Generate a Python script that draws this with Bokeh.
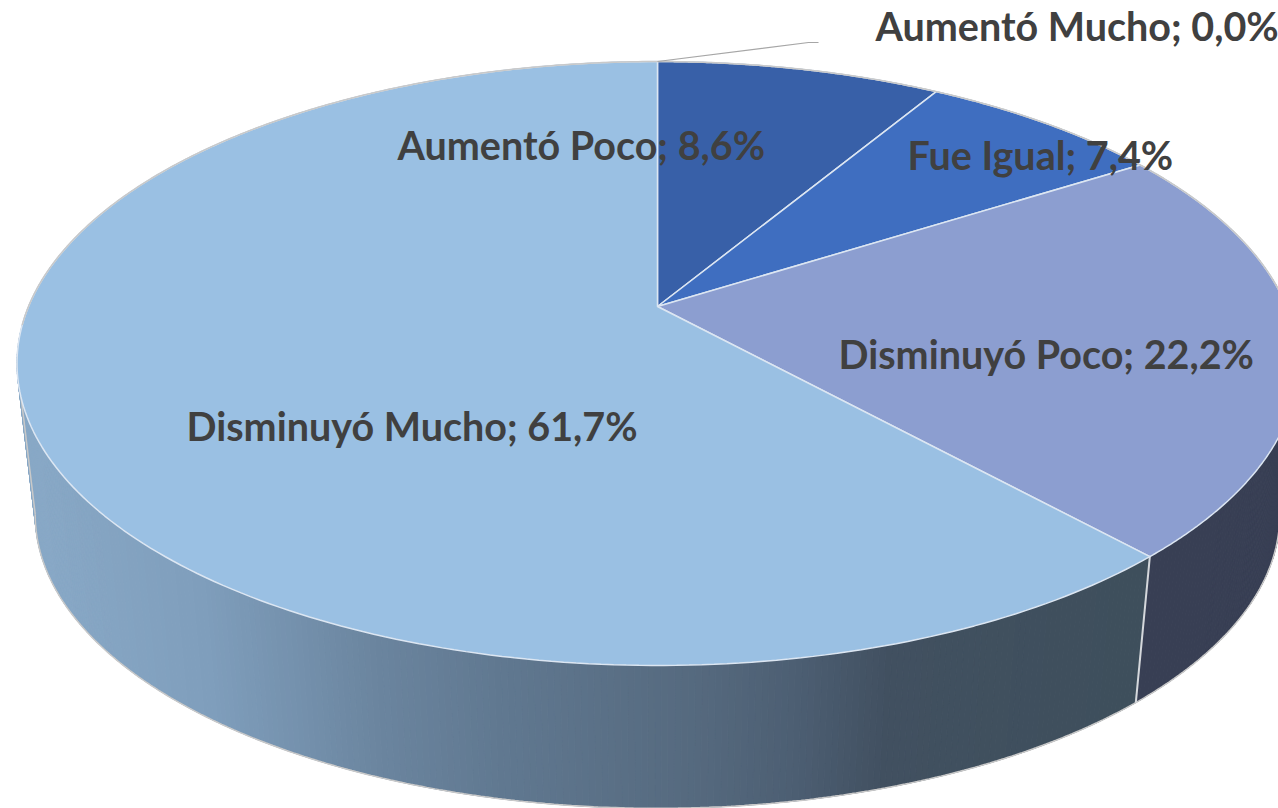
import numpy as np
from bokeh.plotting import figure
from bokeh.models import ColumnDataSource
from bokeh.core.properties import value
from bokeh.embed import file_html
from bokeh.resources import INLINE

categories = ["Aumentó Mucho", "Aumentó Poco", "Fue Igual", "Disminuyó Poco", "Disminuyó Mucho"]
shares = [0.0, 8.6, 7.4, 22.2, 61.7]
top_colors = ["#2f5597", "#3860A8", "#3F6EC0", "#8C9ED0", "#9AC0E3"]

W, H = 1278, 808

# projection of the pie disc (tilt + perspective)
CX, CY = 657.0, 306.0
A, B, K = 629.0, 291.2, 0.1887
VY, S = 5677.0, 0.9715   # vanishing point / scale of the lower rim


def top(theta):
    u, v = np.sin(theta), np.cos(theta)
    d = 1 + K * v
    return CX + A * u / d, CY - B * v / d


def low(theta):
    x, y = top(theta)
    return CX + (x - CX) * S, VY + (y - VY) * S


def grad(x):
    xs = [30, 200, 380, 500, 700, 800, 890, 1140]
    cs = np.array([[0x88, 0xA8, 0xC6], [0x7F, 0x9E, 0xBC], [0x6A, 0x84, 0x9E], [0x60, 0x78, 0x90],
                   [0x55, 0x69, 0x7E], [0x4C, 0x5E, 0x72], [0x41, 0x50, 0x60], [0x3E, 0x4F, 0x5C]], float)
    return "#%02x%02x%02x" % tuple(int(round(np.interp(x, xs, cs[:, i]))) for i in range(3))


p = figure(width=W, height=H, x_range=(0, W), y_range=(H, 0),
           output_backend="svg", toolbar_location=None, min_border=0,
           outline_line_color=None, background_fill_color="white", border_fill_color="white")
p.axis.visible = False
p.grid.visible = False

edges = np.radians(np.cumsum([0.0] + shares) / sum(shares) * 360)

# side wall
xs, ys, cols = [], [], []
for i in range(len(shares)):
    a0, a1 = edges[i], edges[i + 1]
    if a1 <= a0:
        continue
    n = max(2, int(np.degrees(a1 - a0) * 2))
    t = np.linspace(a0, a1, n + 1)
    for j in range(n):
        x0, y0 = top(t[j]); x1, y1 = top(t[j + 1])
        x2, y2 = low(t[j + 1]); x3, y3 = low(t[j])
        xs.append([x0, x1, x2, x3]); ys.append([y0, y1, y2, y3])
        cols.append("#383F54" if categories[i] == "Disminuyó Poco" else grad((x0 + x1) / 2))
p.patches(xs, ys, fill_color=cols, line_color=cols, line_width=1)

# silhouette of the lower rim, between its rightmost and leftmost points
t = np.linspace(np.pi * 0.40, np.pi * 1.9, 800)
lx, ly = low(t)
start, stop = int(np.argmax(lx)), int(np.argmin(lx))
p.line(lx[start:stop + 1], ly[start:stop + 1], line_color="#c9c9c9", line_width=1.5)
ux, uy = top(t[stop])
p.line([ux, lx[stop]], [uy, ly[stop]], line_color="#c9c9c9", line_width=1.5)

# cut between the two visible walls
cut = edges[3 + 1]
tx, ty = top(cut); bx, by = low(cut)
p.line([tx, bx], [ty, by], line_color="#d5d8dc", line_width=2)

# top face
for i in range(len(shares)):
    a0, a1 = edges[i], edges[i + 1]
    if a1 <= a0:
        continue
    t = np.linspace(a0, a1, 240)
    x, y = top(t)
    p.patch(np.r_[CX, x], np.r_[CY, y], fill_color=top_colors[i], line_color="#DCE6F2", line_width=1.5)

# outer rim highlight on the back half
t = np.linspace(-np.pi * 0.52, np.pi * 0.52, 400)
x, y = top(t)
p.line(x, y, line_color="#c9c9c9", line_width=1.5)

# leader line of the empty slice
p.line([CX, 808, 818], [61, 42, 42], line_color="#a6a6a6", line_width=1.2)

labels = [f"{c}; {v:.1f}%".replace(".", ",") for c, v in zip(categories, shares)]
label_x = [875, 397, 907, 838, 186]
label_y = [25, 144, 154, 353, 425]
src = ColumnDataSource(dict(x=label_x, y=label_y, t=labels))
p.text("x", "y", text="t", source=src, text_font=value("Lato"), text_font_style="bold",
       text_font_size="39.5px", text_color="#404040", text_align="left", text_baseline="middle")

open("out.html", "w").write(file_html(p, INLINE))
